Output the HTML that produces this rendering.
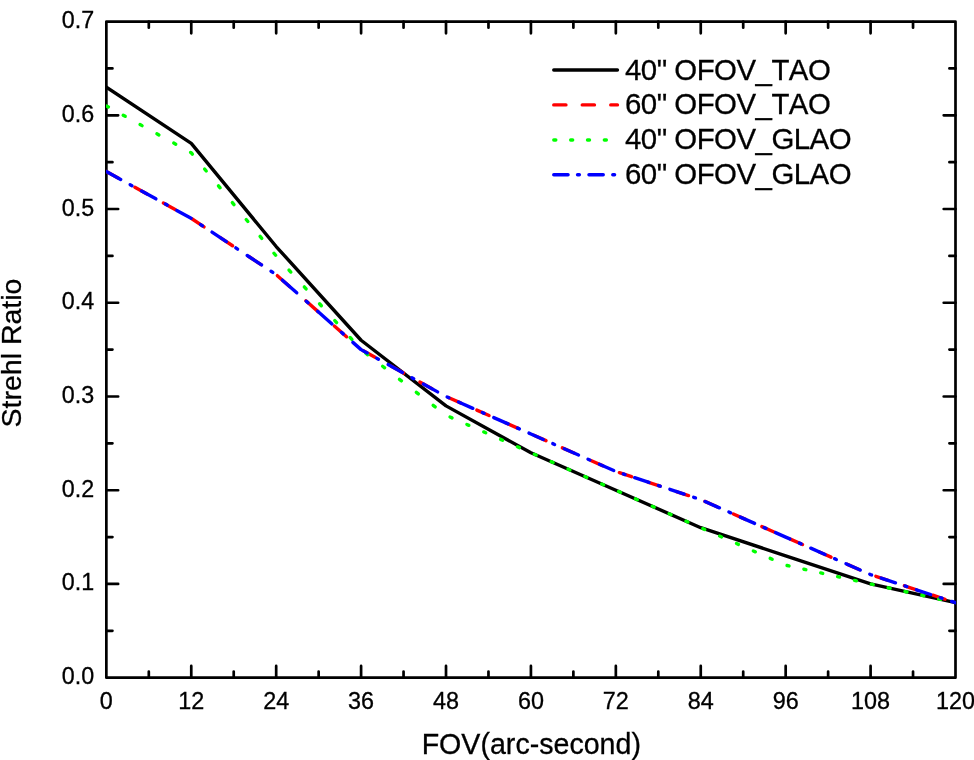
<!DOCTYPE html><html><head><meta charset="utf-8"><style>
html,body{margin:0;padding:0;background:#fff}
body{width:974px;height:760px;position:relative;overflow:hidden;font-family:"Liberation Sans",sans-serif;color:#000}
.t{position:absolute;white-space:nowrap;line-height:1;filter:grayscale(1);font-kerning:none;-webkit-text-stroke:0.3px #000}
.xt{font-size:23.4px;transform:translateX(-50%);top:689.5px}
.yt{font-size:23.3px;right:879.8px;transform:translateY(-50%)}
.lg{font-size:29.4px;letter-spacing:-0.5px;left:625px;transform:translateY(-50%)}
</style></head><body>
<svg width="974" height="760" viewBox="0 0 974 760" style="position:absolute;left:0;top:0">
<defs><clipPath id="c"><rect x="106.05" y="21.55" width="849.95" height="656.15"/></clipPath></defs>
<g stroke="#000" stroke-width="2.70" fill="none" stroke-linecap="round">
<rect x="106.35" y="21.55" width="849.15" height="656.15" stroke-linejoin="round"/>
<path d="M148.81 677.70v-6.10 M148.81 21.55v6.10"/>
<path d="M191.26 677.70v-11.80 M191.26 21.55v11.80"/>
<path d="M233.72 677.70v-6.10 M233.72 21.55v6.10"/>
<path d="M276.18 677.70v-11.80 M276.18 21.55v11.80"/>
<path d="M318.64 677.70v-6.10 M318.64 21.55v6.10"/>
<path d="M361.09 677.70v-11.80 M361.09 21.55v11.80"/>
<path d="M403.55 677.70v-6.10 M403.55 21.55v6.10"/>
<path d="M446.01 677.70v-11.80 M446.01 21.55v11.80"/>
<path d="M488.47 677.70v-6.10 M488.47 21.55v6.10"/>
<path d="M530.92 677.70v-11.80 M530.92 21.55v11.80"/>
<path d="M573.38 677.70v-6.10 M573.38 21.55v6.10"/>
<path d="M615.84 677.70v-11.80 M615.84 21.55v11.80"/>
<path d="M658.30 677.70v-6.10 M658.30 21.55v6.10"/>
<path d="M700.75 677.70v-11.80 M700.75 21.55v11.80"/>
<path d="M743.21 677.70v-6.10 M743.21 21.55v6.10"/>
<path d="M785.67 677.70v-11.80 M785.67 21.55v11.80"/>
<path d="M828.13 677.70v-6.10 M828.13 21.55v6.10"/>
<path d="M870.59 677.70v-11.80 M870.59 21.55v11.80"/>
<path d="M913.04 677.70v-6.10 M913.04 21.55v6.10"/>
<path d="M106.35 630.83h6.10 M955.50 630.83h-6.10"/>
<path d="M106.35 583.96h11.80 M955.50 583.96h-11.80"/>
<path d="M106.35 537.10h6.10 M955.50 537.10h-6.10"/>
<path d="M106.35 490.23h11.80 M955.50 490.23h-11.80"/>
<path d="M106.35 443.36h6.10 M955.50 443.36h-6.10"/>
<path d="M106.35 396.49h11.80 M955.50 396.49h-11.80"/>
<path d="M106.35 349.62h6.10 M955.50 349.62h-6.10"/>
<path d="M106.35 302.76h11.80 M955.50 302.76h-11.80"/>
<path d="M106.35 255.89h6.10 M955.50 255.89h-6.10"/>
<path d="M106.35 209.02h11.80 M955.50 209.02h-11.80"/>
<path d="M106.35 162.15h6.10 M955.50 162.15h-6.10"/>
<path d="M106.35 115.29h11.80 M955.50 115.29h-11.80"/>
<path d="M106.35 68.42h6.10 M955.50 68.42h-6.10"/>
</g>
<g clip-path="url(#c)" fill="none" stroke-width="3.40" stroke-linecap="round" stroke-linejoin="round">
<polyline points="106.35,87.16 191.26,143.41 276.18,246.52 361.09,340.25 446.01,405.87 530.92,452.73 615.84,490.23 700.75,527.72 785.67,555.84 870.59,583.96 955.50,602.71" stroke="#000"/>
<polyline points="106.35,171.53 118.55,178.26" stroke="#f00"/><polyline points="134.85,187.26 147.05,193.99" stroke="#f00"/><polyline points="163.35,202.99 175.55,209.72" stroke="#f00"/><polyline points="191.85,218.78 204.05,226.86" stroke="#f00"/><polyline points="220.35,237.66 232.55,245.74" stroke="#f00"/><polyline points="248.85,256.54 261.05,264.62" stroke="#f00"/><polyline points="277.35,275.67 289.55,286.44" stroke="#f00"/><polyline points="305.85,300.84 318.05,311.61" stroke="#f00"/><polyline points="334.35,326.01 346.55,336.78" stroke="#f00"/><polyline points="362.85,350.59 375.05,357.33" stroke="#f00"/><polyline points="391.35,366.32 403.55,373.06" stroke="#f00"/><polyline points="419.85,382.05 432.05,388.79" stroke="#f00"/><polyline points="448.35,397.53 460.55,402.91" stroke="#f00"/><polyline points="476.85,410.11 489.05,415.50" stroke="#f00"/><polyline points="505.35,422.69 517.55,428.08" stroke="#f00"/><polyline points="533.85,435.28 546.05,440.67" stroke="#f00"/><polyline points="562.35,447.86 574.55,453.25" stroke="#f00"/><polyline points="590.85,460.45 603.05,465.83" stroke="#f00"/><polyline points="619.35,472.64 631.55,476.68" stroke="#f00"/><polyline points="647.85,482.08 660.05,486.12" stroke="#f00"/><polyline points="676.35,491.52 688.55,495.56" stroke="#f00"/><polyline points="704.85,501.41 717.05,506.80" stroke="#f00"/><polyline points="733.35,513.99 745.55,519.38" stroke="#f00"/><polyline points="761.85,526.58 774.05,531.97" stroke="#f00"/><polyline points="790.35,539.16 802.55,544.55" stroke="#f00"/><polyline points="818.85,551.75 831.05,557.13" stroke="#f00"/><polyline points="847.35,564.33 859.55,569.72" stroke="#f00"/><polyline points="875.85,576.33 888.05,580.37" stroke="#f00"/><polyline points="904.35,585.77 916.55,589.81" stroke="#f00"/><polyline points="932.85,595.21 945.05,599.25" stroke="#f00"/>
<polyline points="106.35,105.91 108.35,107.02" stroke="#0f0"/><polyline points="123.20,115.21 125.20,116.32" stroke="#0f0"/><polyline points="140.05,124.51 142.05,125.62" stroke="#0f0"/><polyline points="156.90,133.81 158.90,134.92" stroke="#0f0"/><polyline points="173.75,143.11 175.75,144.22" stroke="#0f0"/><polyline points="190.60,152.41 191.26,152.78 192.36,154.11" stroke="#0f0"/><polyline points="204.59,168.96 206.24,170.96" stroke="#0f0"/><polyline points="218.47,185.81 220.12,187.81" stroke="#0f0"/><polyline points="232.35,202.66 233.99,204.66" stroke="#0f0"/><polyline points="246.22,219.51 247.87,221.51" stroke="#0f0"/><polyline points="260.10,236.36 261.75,238.36" stroke="#0f0"/><polyline points="273.98,253.21 275.62,255.21" stroke="#0f0"/><polyline points="289.02,270.06 290.83,272.06" stroke="#0f0"/><polyline points="304.29,286.91 306.10,288.91" stroke="#0f0"/><polyline points="319.55,303.76 321.36,305.76" stroke="#0f0"/><polyline points="334.81,320.61 336.63,322.61" stroke="#0f0"/><polyline points="350.08,337.46 351.89,339.46" stroke="#0f0"/><polyline points="365.78,353.25 367.78,354.79" stroke="#0f0"/><polyline points="382.63,366.27 384.63,367.81" stroke="#0f0"/><polyline points="399.48,379.29 401.48,380.83" stroke="#0f0"/><polyline points="416.33,392.31 418.33,393.86" stroke="#0f0"/><polyline points="433.18,405.33 435.18,406.88" stroke="#0f0"/><polyline points="450.03,417.02 452.03,417.90" stroke="#0f0"/><polyline points="466.88,424.46 468.88,425.34" stroke="#0f0"/><polyline points="483.73,431.90 485.73,432.78" stroke="#0f0"/><polyline points="500.58,439.34 502.58,440.22" stroke="#0f0"/><polyline points="517.43,446.78 519.43,447.66" stroke="#0f0"/><polyline points="534.28,454.22 536.28,455.10" stroke="#0f0"/><polyline points="551.13,461.66 553.13,462.54" stroke="#0f0"/><polyline points="567.98,469.10 569.98,469.98" stroke="#0f0"/><polyline points="584.83,476.54 586.83,477.42" stroke="#0f0"/><polyline points="601.68,483.98 603.68,484.86" stroke="#0f0"/><polyline points="618.53,491.42 620.53,492.30" stroke="#0f0"/><polyline points="635.38,498.86 637.38,499.74" stroke="#0f0"/><polyline points="652.23,506.30 654.23,507.18" stroke="#0f0"/><polyline points="669.08,513.74 671.08,514.62" stroke="#0f0"/><polyline points="685.93,521.18 687.93,522.06" stroke="#0f0"/><polyline points="702.78,528.62 704.78,529.50" stroke="#0f0"/><polyline points="719.63,536.06 721.63,536.94" stroke="#0f0"/><polyline points="736.48,543.50 738.48,544.38" stroke="#0f0"/><polyline points="753.33,550.94 755.33,551.82" stroke="#0f0"/><polyline points="770.18,558.38 772.18,559.26" stroke="#0f0"/><polyline points="787.03,565.52 789.03,565.96" stroke="#0f0"/><polyline points="803.88,569.24 805.88,569.68" stroke="#0f0"/><polyline points="820.73,572.96 822.73,573.40" stroke="#0f0"/><polyline points="837.58,576.68 839.58,577.12" stroke="#0f0"/><polyline points="854.43,580.40 856.43,580.84" stroke="#0f0"/><polyline points="871.28,584.12 873.28,584.56" stroke="#0f0"/><polyline points="888.13,587.84 890.13,588.28" stroke="#0f0"/><polyline points="904.98,591.56 906.98,592.00" stroke="#0f0"/><polyline points="921.83,595.28 923.83,595.72" stroke="#0f0"/><polyline points="938.68,599.00 940.68,599.44" stroke="#0f0"/>
<polyline points="106.35,171.53 120.65,179.42" stroke="#00f"/><polyline points="130.15,184.66 131.95,185.66" stroke="#00f"/><polyline points="141.57,190.97 155.87,198.86" stroke="#00f"/><polyline points="165.37,204.10 167.17,205.10" stroke="#00f"/><polyline points="176.79,210.41 191.09,218.30" stroke="#00f"/><polyline points="200.59,224.57 202.39,225.76" stroke="#00f"/><polyline points="212.01,232.13 226.31,241.61" stroke="#00f"/><polyline points="235.81,247.90 237.61,249.09" stroke="#00f"/><polyline points="247.23,255.46 261.53,264.93" stroke="#00f"/><polyline points="271.03,271.23 272.83,272.42" stroke="#00f"/><polyline points="282.45,280.17 296.75,292.80" stroke="#00f"/><polyline points="306.25,301.19 308.05,302.78" stroke="#00f"/><polyline points="317.67,311.28 331.97,323.90" stroke="#00f"/><polyline points="341.47,332.29 343.27,333.88" stroke="#00f"/><polyline points="352.89,342.38 361.09,349.62 367.19,352.99" stroke="#00f"/><polyline points="376.69,358.23 378.49,359.23" stroke="#00f"/><polyline points="388.11,364.54 402.41,372.43" stroke="#00f"/><polyline points="411.91,377.67 413.71,378.67" stroke="#00f"/><polyline points="423.33,383.97 437.63,391.87" stroke="#00f"/><polyline points="447.13,396.99 448.93,397.78" stroke="#00f"/><polyline points="458.55,402.03 472.85,408.34" stroke="#00f"/><polyline points="482.35,412.54 484.15,413.33" stroke="#00f"/><polyline points="493.77,417.58 508.07,423.90" stroke="#00f"/><polyline points="517.57,428.09 519.37,428.89" stroke="#00f"/><polyline points="528.99,433.13 530.92,433.99 543.29,439.45" stroke="#00f"/><polyline points="552.79,443.64 554.59,444.44" stroke="#00f"/><polyline points="564.21,448.68 578.51,455.00" stroke="#00f"/><polyline points="588.01,459.19 589.81,459.99" stroke="#00f"/><polyline points="599.43,464.24 613.73,470.55" stroke="#00f"/><polyline points="623.23,473.93 625.03,474.52" stroke="#00f"/><polyline points="634.65,477.71 648.95,482.45" stroke="#00f"/><polyline points="658.45,485.59 660.25,486.19" stroke="#00f"/><polyline points="669.87,489.37 684.17,494.11" stroke="#00f"/><polyline points="693.67,497.26 695.47,497.85" stroke="#00f"/><polyline points="705.09,501.52 719.39,507.83" stroke="#00f"/><polyline points="728.89,512.03 730.69,512.82" stroke="#00f"/><polyline points="740.31,517.07 754.61,523.38" stroke="#00f"/><polyline points="764.11,527.58 765.91,528.37" stroke="#00f"/><polyline points="775.53,532.62 785.67,537.10 789.83,538.93" stroke="#00f"/><polyline points="799.33,543.13 801.13,543.92" stroke="#00f"/><polyline points="810.75,548.17 825.05,554.48" stroke="#00f"/><polyline points="834.55,558.68 836.35,559.47" stroke="#00f"/><polyline points="845.97,563.72 860.27,570.04" stroke="#00f"/><polyline points="869.77,574.23 870.59,574.59 871.57,574.92" stroke="#00f"/><polyline points="881.19,578.10 895.49,582.84" stroke="#00f"/><polyline points="904.99,585.98 906.79,586.58" stroke="#00f"/><polyline points="916.41,589.77 930.71,594.50" stroke="#00f"/><polyline points="940.21,597.65 942.01,598.24" stroke="#00f"/><polyline points="951.63,601.43 955.50,602.71" stroke="#00f"/>
</g>
<g fill="none" stroke-width="3.40" stroke-linecap="round">
<polyline points="553.75,70.00 617.45,70.00" stroke="#000"/>
<polyline points="553.75,104.90 565.95,104.90" stroke="#f00"/>
<polyline points="582.25,104.90 594.45,104.90" stroke="#f00"/>
<polyline points="610.75,104.90 617.45,104.90" stroke="#f00"/>
<polyline points="553.80,140.00 555.80,140.00" stroke="#0f0"/>
<polyline points="570.65,140.00 572.65,140.00" stroke="#0f0"/>
<polyline points="587.50,140.00 589.50,140.00" stroke="#0f0"/>
<polyline points="604.35,140.00 606.35,140.00" stroke="#0f0"/>
<polyline points="553.75,174.80 568.05,174.80" stroke="#00f"/>
<polyline points="577.55,174.80 579.35,174.80" stroke="#00f"/>
<polyline points="588.97,174.80 603.27,174.80" stroke="#00f"/>
<polyline points="612.77,174.80 614.57,174.80" stroke="#00f"/>
</g>
</svg>
<div class="t xt" style="left:106.35px">0</div>
<div class="t xt" style="left:191.26px">12</div>
<div class="t xt" style="left:276.18px">24</div>
<div class="t xt" style="left:361.09px">36</div>
<div class="t xt" style="left:446.01px">48</div>
<div class="t xt" style="left:530.92px">60</div>
<div class="t xt" style="left:615.84px">72</div>
<div class="t xt" style="left:700.75px">84</div>
<div class="t xt" style="left:785.67px">96</div>
<div class="t xt" style="left:870.59px">108</div>
<div class="t xt" style="left:955.50px">120</div>
<div class="t yt" style="top:677.20px">0.0</div>
<div class="t yt" style="top:583.46px">0.1</div>
<div class="t yt" style="top:489.73px">0.2</div>
<div class="t yt" style="top:395.99px">0.3</div>
<div class="t yt" style="top:302.26px">0.4</div>
<div class="t yt" style="top:208.52px">0.5</div>
<div class="t yt" style="top:114.79px">0.6</div>
<div class="t yt" style="top:21.05px">0.7</div>
<div class="t lg" style="top:70.40px">40&quot; OFOV_TAO</div>
<div class="t lg" style="top:104.40px">60&quot; OFOV_TAO</div>
<div class="t lg" style="top:139.00px">40&quot; OFOV_GLAO</div>
<div class="t lg" style="top:173.60px">60&quot; OFOV_GLAO</div>
<div class="t" id="xl" style="font-size:28.6px;left:531.3px;top:730.2px;transform:translateX(-50%)">FOV(arc-second)</div>
<div class="t" id="yl" style="font-size:28.5px;left:11px;top:353.0px;transform:translate(-50%,-50%) rotate(-90deg)">Strehl Ratio</div>
</body></html>
